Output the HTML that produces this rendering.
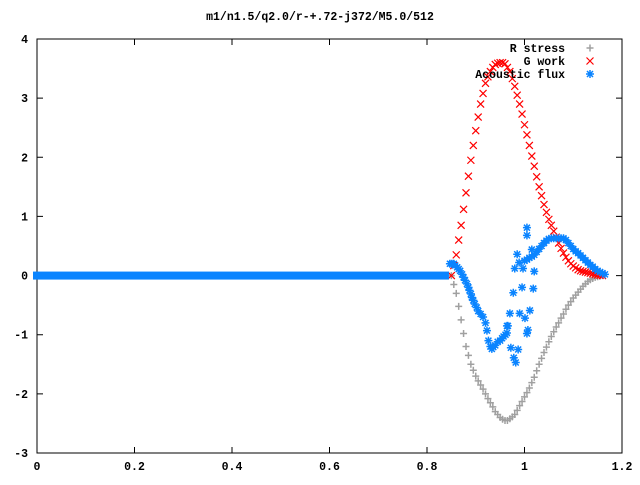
<!DOCTYPE html>
<html><head><meta charset="utf-8"><style>
html,body{margin:0;padding:0;background:#fff}
svg text{font-family:"Liberation Mono",monospace;font-size:11.5px;font-weight:bold;fill:#000}
</style></head><body>
<svg width="640" height="480" viewBox="0 0 640 480" xmlns="http://www.w3.org/2000/svg">
<rect width="640" height="480" fill="#fff"/>
<text x="320" y="20" text-anchor="middle">m1/n1.5/q2.0/r-+.72-j372/M5.0/512</text>
<g id="axes"></g>
<g id="marks"></g>
<g id="legend"></g>
</svg>
<script>
const xTicks=[0,0.2,0.4,0.6,0.8,1,1.2];
const xTickLabels=["0","0.2","0.4","0.6","0.8","1","1.2"];
const yTicks=[-3,-2,-1,0,1,2,3,4];
const yTickLabels=["-3","-2","-1","0","1","2","3","4"];
const gX=[0.85,0.855,0.86,0.865,0.87,0.875,0.88,0.885,0.89,0.895,0.90,0.905,0.91,0.915,0.92,0.925,0.93,0.935,0.94,0.945,0.95,0.955,0.96,0.965,0.97,0.975,0.98,0.985,0.99,0.995,1.00,1.005,1.01,1.015,1.02,1.025,1.03,1.035,1.04,1.045,1.05,1.055,1.06,1.065,1.07,1.075,1.08,1.085,1.09,1.095,1.10,1.105,1.11,1.115,1.12,1.125,1.13,1.135,1.14,1.145,1.15,1.155,1.16];
const rStress=[0,-0.15,-0.3,-0.52,-0.75,-0.98,-1.2,-1.35,-1.5,-1.6,-1.7,-1.78,-1.85,-1.92,-2.0,-2.08,-2.15,-2.22,-2.3,-2.35,-2.4,-2.43,-2.45,-2.45,-2.42,-2.39,-2.35,-2.28,-2.2,-2.13,-2.05,-1.98,-1.9,-1.81,-1.72,-1.61,-1.5,-1.4,-1.3,-1.21,-1.12,-1.03,-0.95,-0.87,-0.8,-0.72,-0.65,-0.57,-0.5,-0.44,-0.38,-0.33,-0.28,-0.23,-0.18,-0.14,-0.1,-0.07,-0.05,-0.03,-0.02,-0.01,0];
const gWork=[0,0.17,0.35,0.6,0.85,1.12,1.4,1.68,1.95,2.2,2.45,2.68,2.9,3.08,3.25,3.36,3.45,3.52,3.57,3.59,3.6,3.6,3.58,3.52,3.45,3.33,3.2,3.05,2.9,2.73,2.55,2.38,2.2,2.02,1.85,1.67,1.5,1.35,1.2,1.07,0.95,0.85,0.75,0.65,0.55,0.46,0.38,0.31,0.25,0.2,0.16,0.13,0.1,0.08,0.07,0.06,0.05,0.04,0.03,0.02,0.01,0.005,0];
const fluxX=[0.847,0.851,0.855,0.858,0.862,0.865,0.868,0.872,0.875,0.878,0.882,0.885,0.887,0.89,0.892,0.895,0.898,0.902,0.905,0.91,0.915,0.92,0.923,0.926,0.93,0.933,0.936,0.94,0.945,0.95,0.954,0.957,0.961,0.964,0.964,0.966,0.97,0.972,0.977,0.978,0.98,0.982,0.985,0.987,0.989,0.99,0.995,0.997,1.001,1.005,1.005,1.005,1.007,1.011,1.015,1.018,1.02,1.0,1.005,1.01,1.015,1.02,1.025,1.03,1.035,1.04,1.045,1.05,1.055,1.06,1.065,1.07,1.075,1.08,1.085,1.09,1.095,1.10,1.105,1.11,1.115,1.12,1.125,1.13,1.135,1.14,1.145,1.15,1.155,1.16,1.165];
const fluxY=[0.2,0.2,0.2,0.17,0.14,0.11,0.08,0.02,-0.03,-0.08,-0.14,-0.2,-0.25,-0.31,-0.37,-0.42,-0.48,-0.54,-0.6,-0.65,-0.7,-0.8,-0.93,-1.1,-1.2,-1.24,-1.21,-1.18,-1.12,-1.1,-1.06,-1.03,-1.0,-0.97,-0.85,-0.85,-0.64,-1.22,-0.29,-1.39,0.12,-1.47,0.36,-1.25,0.22,-0.64,-0.2,0.12,-0.72,0.81,0.68,-0.98,-0.92,-0.59,0.44,-0.22,0.07,0.25,0.27,0.3,0.32,0.35,0.4,0.45,0.5,0.55,0.59,0.62,0.63,0.63,0.63,0.63,0.63,0.63,0.6,0.55,0.5,0.45,0.41,0.38,0.34,0.3,0.26,0.22,0.18,0.15,0.11,0.08,0.06,0.04,0.02];
const flatStart=0, flatEnd=0.845;
const X0=37,X1=622,Y0=453,Y1=39;
const xs=v=>X0+(v-0)/1.2*(X1-X0);
const ys=v=>Y0-(v+3)/7*(Y0-Y1);
const NS="http://www.w3.org/2000/svg";
function mk(tag,attrs,parent){const e=document.createElementNS(NS,tag);for(const k in attrs)e.setAttribute(k,attrs[k]);parent.appendChild(e);return e;}
const axes=document.getElementById('axes');
const frame=mk('rect',{x:X0,y:Y1,width:X1-X0,height:Y0-Y1,fill:'none',stroke:'#000','stroke-width':1},axes);


xTicks.forEach((v,i)=>{const x=xs(v);
 mk('path',{d:`M${x},${Y0}v-6M${x},${Y1}v6`,stroke:'#000'},axes);
 const t=mk('text',{x:x,y:470,'text-anchor':'middle'},axes);t.textContent=xTickLabels[i];
 
 });
yTicks.forEach((v,i)=>{const y=ys(v);
 mk('path',{d:`M${X0},${y}h6M${X1},${y}h-6`,stroke:'#000'},axes);
 const t=mk('text',{x:28,y:y+4,'text-anchor':'end'},axes);t.textContent=yTickLabels[i];
 
 });
const marks=document.getElementById('marks');
const GRAY='#a0a0a0',RED='#ff0000',BLUE='#0a84ff';
function plus(x,y,c,g){mk('path',{d:`M${x-3.5},${y}h7M${x},${y-3.5}v7`,stroke:c,'stroke-width':1.5},g);}
function cross(x,y,c,g){mk('path',{d:`M${x-3.5},${y-3.5}l7,7M${x-3.5},${y+3.5}l7,-7`,stroke:c,'stroke-width':1.2},g);}
function star(x,y,c,g){mk('path',{d:`M${x-4},${y}h8M${x},${y-4}v8M${x-3},${y-3}l6,6M${x-3},${y+3}l6,-6`,stroke:c,'stroke-width':1.5},g);}
const gs=mk('g',{},marks);
gX.forEach((x,i)=>plus(xs(x),ys(rStress[i]),GRAY,gs));
const gw=mk('g',{},marks);
gX.forEach((x,i)=>cross(xs(x),ys(gWork[i]),RED,gw));
const gf=mk('g',{},marks);
const band=mk('rect',{x:xs(flatStart)-4,y:ys(0)-4,width:xs(flatEnd)-xs(flatStart)+4,height:8,fill:BLUE},gf);


fluxX.forEach((x,i)=>star(xs(x),ys(fluxY[i]),BLUE,gf));
const lg=document.getElementById('legend');
const entries=[["R stress",GRAY,plus],["G work",RED,cross],["Acoustic flux",BLUE,star]];
entries.forEach((e,i)=>{const y=48+i*13;
 const g=mk('g',{},lg);
 
 
 const t=mk('text',{x:565,y:y+4,'text-anchor':'end'},g);t.textContent=e[0];
 e[2](590,y,e[1],g);});
</script>
</body></html>
